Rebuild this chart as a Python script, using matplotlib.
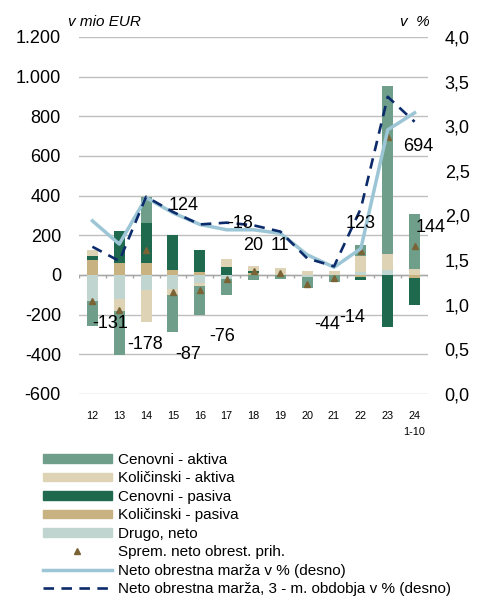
"""
Decomposition of the change in net interest income with net interest margin.
"""

import matplotlib

matplotlib.use("Agg")

import matplotlib.pyplot as plt
import numpy as np
from matplotlib.lines import Line2D
from matplotlib.patches import Patch

plt.rcParams["font.family"] = ["Liberation Sans", "DejaVu Sans"]

# Data (mio EUR, left axis)
categories = ["12", "13", "14", "15", "16", "17", "18", "19", "20", "21", "22", "23", "24\n1-10"]
cenovni_aktiva = [-128, -222, 128, -186, -149, -80, -25, -22, -56, -34, 53, 849, 278]
kolicinski_aktiva = [29, -59, -160, -29, -15, 39, 25, 33, 22, 20, 84, 79, 30]
cenovni_pasiva = [21, 165, 205, 177, 109, 42, 10, 0, 0, 0, -17, -262, -136]
kolicinski_pasiva = [76, 59, 59, 25, 17, 0, 10, 0, 0, 0, -10, 0, -15]
drugo_neto = [-129, -121, -76, -72, -39, -20, 0, 0, -10, 0, 13, 27, 0]
sprem_neto = [-131, -178, 124, -87, -76, -18, 20, 11, -44, -14, 123, 694, 144]

# Net interest margin (%, right axis)
nim = [1.94, 1.68, 2.20, 2.03, 1.90, 1.84, 1.84, 1.80, 1.56, 1.42, 1.63, 2.96, 3.15]
nim_3m = [1.65, 1.49, 2.21, 2.04, 1.90, 1.92, 1.89, 1.82, 1.52, 1.43, 2.08, 3.33, 3.05]

# Where the value labels sit (offset in categories, y in mio EUR)
label_dx = [0.67, 0.95, 1.38, 0.56, 0.82, 0.52, -0.02, 0.0, 0.74, 0.67, 0.0, 1.15, 0.6]
label_y = [-245, -350, 351, -400, -309, 260, 150, 150, -250, -214, 260, 648, 240]

COLORS = {
    "cen_akt": "#6f9f8b",
    "kol_akt": "#ded3b5",
    "cen_pas": "#1f6a4e",
    "kol_pas": "#c8b282",
    "drugo": "#c0d5cf",
    "tri": "#7a6436",
    "nim": "#9cc5d6",
    "nim3": "#0c2b6b",
    "grid": "#bfbfbf",
}


def fmt_left(v: float) -> str:
    return f"{v:,.0f}".replace(",", ".")


def fmt_right(v: float) -> str:
    return f"{v:.1f}".replace(".", ",")


def create_chart() -> plt.Figure:
    fig = plt.figure(figsize=(4.82, 6.02), dpi=100)
    ax = fig.add_axes([79 / 482, 1 - 394 / 602, 349 / 482, 357 / 602])
    ax2 = ax.twinx()

    x = np.arange(len(categories))
    width = 0.41

    # Excel-style stacking: positives and negatives stack separately
    stack = [
        (drugo_neto, COLORS["drugo"]),
        (kolicinski_pasiva, COLORS["kol_pas"]),
        (cenovni_pasiva, COLORS["cen_pas"]),
        (kolicinski_aktiva, COLORS["kol_akt"]),
        (cenovni_aktiva, COLORS["cen_akt"]),
    ]
    pos = np.zeros(len(categories))
    neg = np.zeros(len(categories))
    for series, color in stack:
        vals = np.array(series, dtype=float)
        bottom = np.where(vals >= 0, pos, neg)
        ax.bar(x, vals, width=width, bottom=bottom, color=color, zorder=2, linewidth=0)
        pos += np.clip(vals, 0, None)
        neg += np.clip(vals, None, 0)

    ax.plot(x, sprem_neto, linestyle="none", marker="^", markersize=5,
            color=COLORS["tri"], zorder=4)

    # Left axis
    ax.set_xlim(-0.5, len(categories) - 0.5)
    ax.set_ylim(-600, 1200)
    yticks = np.arange(-600, 1201, 200)
    ax.set_yticks(yticks)
    ax.set_yticklabels([fmt_left(v) for v in yticks], fontsize=13)
    ax.tick_params(axis="y", length=0, pad=13)
    ax.grid(True, axis="y", color=COLORS["grid"], linewidth=1.0, zorder=0)
    ax.set_axisbelow(True)
    for side in ["left", "right", "top", "bottom"]:
        ax.spines[side].set_visible(False)

    ax.set_xticks(x)
    ax.set_xticklabels(categories, fontsize=7.8)
    ax.tick_params(axis="x", length=0, pad=12)
    for lbl in ax.get_xticklabels():
        lbl.set_linespacing(1.75)

    # Zero line with category-boundary ticks
    ax.axhline(0, color="#a6a6a6", linewidth=1.0, zorder=1)
    ax.vlines(np.arange(-0.5, len(categories)), -17, 0, color="#a6a6a6",
              linewidth=1.0, zorder=1)

    # Right axis
    ax2.plot(x, nim, color=COLORS["nim"], linewidth=2.5, zorder=3)
    ax2.plot(x, nim_3m, color=COLORS["nim3"], linewidth=1.9,
             dashes=(4, 2.8), zorder=3)
    ax2.set_ylim(0, 4)
    rticks = np.arange(0, 4.01, 0.5)
    ax2.set_yticks(rticks)
    ax2.set_yticklabels([fmt_right(v) for v in rticks], fontsize=13)
    ax2.tick_params(axis="y", length=0, pad=12)
    for side in ["left", "right", "top", "bottom"]:
        ax2.spines[side].set_visible(False)

    # Value labels (drawn on top axis so they sit above the lines)
    for i, val in enumerate(sprem_neto):
        ax2.text(x[i] + label_dx[i], label_y[i], str(val), transform=ax.transData,
                 ha="center", va="center", fontsize=13, zorder=5)

    fig.text(68 / 482, 1 - 22 / 602, "v mio EUR", style="italic", fontsize=11,
             ha="left", va="center")
    fig.text(430 / 482, 1 - 22 / 602, "v  %", style="italic", fontsize=11,
             ha="right", va="center")

    handles = [
        Patch(color=COLORS["cen_akt"]),
        Patch(color=COLORS["kol_akt"]),
        Patch(color=COLORS["cen_pas"]),
        Patch(color=COLORS["kol_pas"]),
        Patch(color=COLORS["drugo"]),
        Line2D([], [], linestyle="none", marker="^", markersize=5, color=COLORS["tri"]),
        Line2D([], [], color=COLORS["nim"], linewidth=2.5),
        Line2D([], [], color=COLORS["nim3"], linewidth=1.9, dashes=(4, 2.8)),
    ]
    labels = [
        "Cenovni - aktiva",
        "Količinski - aktiva",
        "Cenovni - pasiva",
        "Količinski - pasiva",
        "Drugo, neto",
        "Sprem. neto obrest. prih.",
        "Neto obrestna marža v % (desno)",
        "Neto obrestna marža, 3 - m. obdobja v % (desno)",
    ]
    fig.legend(handles, labels, loc="upper left", bbox_to_anchor=(43 / 482, 1 - 453 / 602),
               frameon=False, fontsize=11, handlelength=4.5, handleheight=0.5,
               handletextpad=0.4, labelspacing=0.29, borderpad=0, borderaxespad=0,
               numpoints=1)
    return fig


fig = create_chart()
fig.savefig("out.png", dpi=100)
